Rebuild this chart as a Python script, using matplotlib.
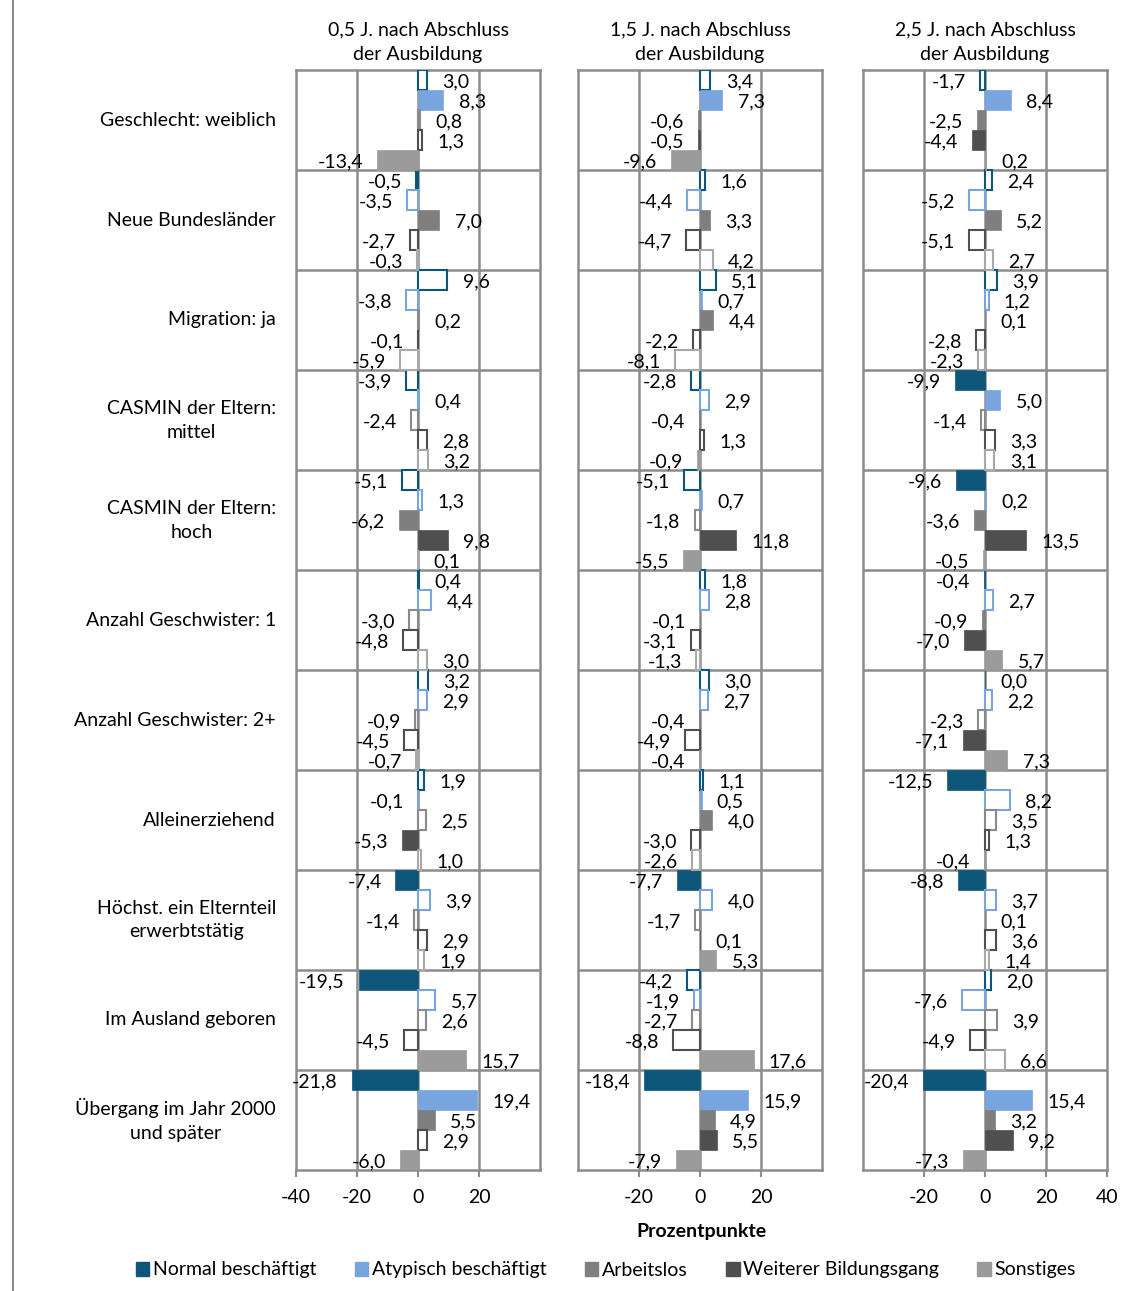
import numpy as np
import matplotlib.pyplot as plt
from matplotlib.patches import Patch
from matplotlib.lines import Line2D

plt.rcParams['font.family'] = ['Lato', 'DejaVu Sans']
plt.rcParams['axes.unicode_minus'] = False

# -----------------------------------
# DATA
# -----------------------------------
categories = [
    "Geschlecht: weiblich",
    "Neue Bundesländer",
    "Migration: ja",
    "CASMIN der Eltern:\nmittel",
    "CASMIN der Eltern:\nhoch",
    "Anzahl Geschwister: 1",
    "Anzahl Geschwister: 2+",
    "Alleinerziehend",
    "Höchst. ein Elternteil\nerwerbtstätig",
    "Im Ausland geboren",
    "Übergang im Jahr 2000\nund später",
]

series = ["Normal beschäftigt", "Atypisch beschäftigt", "Arbeitslos",
          "Weiterer Bildungsgang", "Sonstiges"]

panel_titles = ["0,5 J. nach Abschluss\nder Ausbildung",
                "1,5 J. nach Abschluss\nder Ausbildung",
                "2,5 J. nach Abschluss\nder Ausbildung"]

# values per category: [Normal, Atypisch, Arbeitslos, Weiterer, Sonstiges]
vals_05 = [
    [3.0, 8.3, 0.8, 1.3, -13.4],
    [-0.5, -3.5, 7.0, -2.7, -0.3],
    [9.6, -3.8, 0.2, -0.1, -5.9],
    [-3.9, 0.4, -2.4, 2.8, 3.2],
    [-5.1, 1.3, -6.2, 9.8, 0.1],
    [0.4, 4.4, -3.0, -4.8, 3.0],
    [3.2, 2.9, -0.9, -4.5, -0.7],
    [1.9, -0.1, 2.5, -5.3, 1.0],
    [-7.4, 3.9, -1.4, 2.9, 1.9],
    [-19.5, 5.7, 2.6, -4.5, 15.7],
    [-21.8, 19.4, 5.5, 2.9, -6.0],
]
# 1 = significant (filled bar), 0 = not significant (outline only)
sig_05 = [
    [0, 1, 0, 0, 1],
    [0, 0, 1, 0, 0],
    [0, 0, 0, 0, 0],
    [0, 0, 0, 0, 0],
    [0, 0, 1, 1, 0],
    [0, 0, 0, 0, 0],
    [0, 0, 0, 0, 0],
    [0, 0, 0, 1, 0],
    [1, 0, 0, 0, 0],
    [1, 0, 0, 0, 1],
    [1, 1, 1, 0, 1],
]

vals_15 = [
    [3.4, 7.3, -0.6, -0.5, -9.6],
    [1.6, -4.4, 3.3, -4.7, 4.2],
    [5.1, 0.7, 4.4, -2.2, -8.1],
    [-2.8, 2.9, -0.4, 1.3, -0.9],
    [-5.1, 0.7, -1.8, 11.8, -5.5],
    [1.8, 2.8, -0.1, -3.1, -1.3],
    [3.0, 2.7, -0.4, -4.9, -0.4],
    [1.1, 0.5, 4.0, -3.0, -2.6],
    [-7.7, 4.0, -1.7, 0.1, 5.3],
    [-4.2, -1.9, -2.7, -8.8, 17.6],
    [-18.4, 15.9, 4.9, 5.5, -7.9],
]
sig_15 = [
    [0, 1, 1, 1, 1],
    [0, 0, 1, 0, 0],
    [0, 1, 1, 0, 0],
    [0, 0, 1, 0, 1],
    [0, 1, 0, 1, 1],
    [0, 0, 1, 0, 0],
    [0, 0, 1, 0, 1],
    [0, 1, 1, 0, 0],
    [1, 0, 0, 1, 1],
    [0, 0, 0, 0, 1],
    [1, 1, 1, 1, 1],
]

vals_25 = [
    [-1.7, 8.4, -2.5, -4.4, 0.2],
    [2.4, -5.2, 5.2, -5.1, 2.7],
    [3.9, 1.2, 0.1, -2.8, -2.3],
    [-9.9, 5.0, -1.4, 3.3, 3.1],
    [-9.6, 0.2, -3.6, 13.5, -0.5],
    [-0.4, 2.7, -0.9, -7.0, 5.7],
    [0.0, 2.2, -2.3, -7.1, 7.3],
    [-12.5, 8.2, 3.5, 1.3, -0.4],
    [-8.8, 3.7, 0.1, 3.6, 1.4],
    [2.0, -7.6, 3.9, -4.9, 6.6],
    [-20.4, 15.4, 3.2, 9.2, -7.3],
]
sig_25 = [
    [0, 1, 1, 1, 1],
    [0, 0, 1, 0, 0],
    [0, 0, 1, 0, 0],
    [1, 1, 0, 0, 0],
    [1, 1, 1, 1, 1],
    [1, 0, 1, 1, 1],
    [1, 0, 0, 1, 1],
    [1, 0, 0, 0, 1],
    [1, 0, 1, 0, 0],
    [0, 0, 0, 0, 0],
    [1, 1, 1, 1, 1],
]

x_ticks = [[-40, -20, 0, 20], [-20, 0, 20], [-20, 0, 20, 40]]

# -----------------------------------
# STYLE
# -----------------------------------
colors = ["#0D5679", "#78A5E0", "#7F7F7F", "#4F4F4F", "#9B9B9B"]
edge_colors = ["#0D5679", "#78A5E0", "#8A8A8A", "#4F4F4F", "#A8A8A8"]
grid_col = "#8C8C8C"
fs = 14

W, H = 1137, 1291
fig = plt.figure(figsize=(W / 100, H / 100), dpi=100)

panel_left = [296, 578, 863]
ax_w = 244
ax_top, ax_bot = 70, 1170

panels = [(vals_05, sig_05), (vals_15, sig_15), (vals_25, sig_25)]
n_cat = len(categories)
bar_h = 0.2

axes = []
for p, (vals, sig) in enumerate(panels):
    ax = fig.add_axes([panel_left[p] / W, (H - ax_bot) / H,
                       ax_w / W, (ax_bot - ax_top) / H])
    axes.append(ax)
    vals = np.array(vals)
    sig = np.array(sig)

    for j in range(len(series)):
        y = np.arange(n_cat) - 0.5 + (j + 0.5) * bar_h
        for i in range(n_cat):
            v = vals[i, j]
            if sig[i, j]:
                ax.barh(y[i], v, height=bar_h, color=colors[j],
                        edgecolor=colors[j], linewidth=0.5, zorder=3)
            else:
                ax.barh(y[i], v, height=bar_h, color="white",
                        edgecolor=edge_colors[j], linewidth=1.5, zorder=3)
            lab = f"{v:.1f}".replace(".", ",")
            if v >= 0:
                ax.annotate(lab, (v, y[i]), xytext=(11, -1.5),
                            textcoords="offset points", ha="left",
                            va="center", fontsize=fs, zorder=5)
            else:
                ax.annotate(lab, (v, y[i]), xytext=(-10, -1.5),
                            textcoords="offset points", ha="right",
                            va="center", fontsize=fs, zorder=5)

    ax.set_xlim(-40, 40)
    ax.set_ylim(n_cat - 0.5, -0.5)
    ax.set_yticks([])
    ax.set_xticks(x_ticks[p])
    ax.tick_params(axis="x", labelsize=fs, length=5, width=1.5,
                   color=grid_col, pad=9)
    for x in [-20, 0, 20]:
        ax.axvline(x, color=grid_col, lw=1.8, zorder=1)
    for k in range(1, n_cat):
        ax.axhline(k - 0.5, color=grid_col, lw=1.8, zorder=1)
    for s in ax.spines.values():
        s.set_color(grid_col)
        s.set_linewidth(1.8)
    ax.set_title(panel_titles[p], fontsize=fs, pad=7, linespacing=1.6)

# category labels
for i, cat in enumerate(categories):
    axes[0].text(-0.082, i, cat, transform=axes[0].get_yaxis_transform(),
                 ha="right", va="center", multialignment="center",
                 fontsize=fs, linespacing=1.5)

fig.text(701 / W, (H - 1231) / H, "Prozentpunkte", ha="center",
         va="center", fontsize=fs, fontweight="bold")

handles = [Patch(facecolor=c, edgecolor=c) for c in colors]
fig.legend(handles, series, loc="center", ncol=5,
           bbox_to_anchor=(606 / W, (H - 1270) / H), frameon=False,
           fontsize=fs, handlelength=0.7, handleheight=0.7,
           handletextpad=0.2, columnspacing=1.95)

# outer chart border (left edge visible)
fig.add_artist(Line2D([13 / W, 13 / W], [0, 1], transform=fig.transFigure,
                      color=grid_col, lw=1.5))

plt.savefig("out.png", dpi=100)
plt.close()
